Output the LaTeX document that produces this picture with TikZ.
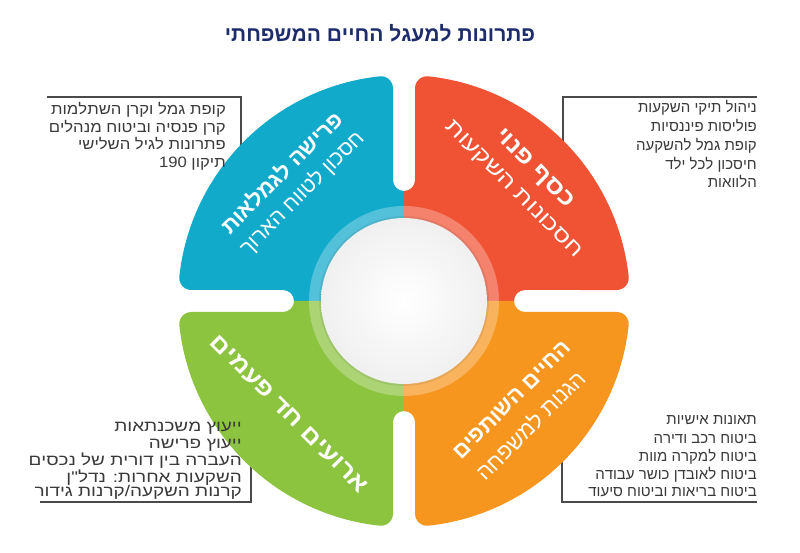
\documentclass[tikz,border=0pt]{standalone}
\usepackage{fontspec}
\setmainfont{Liberation Sans}
\newfontfamily\stretchA[FakeStretch=1.11]{Liberation Sans}
\newfontfamily\stretchB[FakeStretch=1.22]{Liberation Sans}
\newfontfamily\stretchC[FakeStretch=1.15]{Liberation Sans}
\TeXXeTstate=1
\definecolor{qblue}{HTML}{12AACB}
\definecolor{qred}{HTML}{F05334}
\definecolor{qorange}{HTML}{F7961F}
\definecolor{qgreen}{HTML}{8CC43F}
\definecolor{navy}{HTML}{1E2C6B}
\definecolor{txtgray}{HTML}{3A3A3A}
\definecolor{rulegray}{HTML}{4A4A4A}
\tikzset{
  quad/.pic={\fill[pic actions] (0,0) -- (0,110)
     arc[start angle=-90,end angle=0,radius=11pt] -- (11,212.76)
     arc[start angle=180,end angle=83.83,radius=12pt]
     arc[start angle=83.83,end angle=6.17,radius=226pt]
     arc[start angle=6.17,end angle=-90,radius=12pt] -- (121,11)
     arc[start angle=90,end angle=180,radius=11pt] -- cycle;},
  boxline/.style={draw=rulegray,line width=1.8pt},
  boxtext/.style={text=txtgray,inner sep=0pt,anchor=base east,font=\fontsize{15}{18}\selectfont},
  boxtextA/.style={boxtext,font=\fontsize{15}{18}\selectfont\stretchA},
  boxtextB/.style={boxtext,font=\fontsize{15.5}{18}\selectfont\stretchB},
  headA/.style={text=white,inner sep=0pt,font=\fontsize{22}{26}\selectfont\bfseries},
  headB/.style={text=white,inner sep=0pt,font=\fontsize{21}{26}\selectfont},
  titlestyle/.style={text=navy,inner sep=0pt,font=\fontsize{21}{24}\selectfont\bfseries}
}
\begin{document}
\begin{tikzpicture}[x=1pt,y=1pt]
\useasboundingbox (0,0) rectangle (800,552);
\fill[white] (0,0) rectangle (800,552);
\coordinate (c) at (404,251);

% title
\node[titlestyle] (title) at (380,519) {\beginR פתרונות למעגל החיים המשפחתי\endR};

% box rules
\coordinate (tlA) at (47,455); \coordinate (tlB) at (241,455); \coordinate (tlC) at (241,340);
\draw[boxline] (tlA) -- (tlB) -- (tlC);
\coordinate (trA) at (757,455); \coordinate (trB) at (563,455); \coordinate (trC) at (563,340);
\draw[boxline] (trA) -- (trB) -- (trC);
\coordinate (blA) at (251,120); \coordinate (blB) at (251,50); \coordinate (blC) at (40,50);
\draw[boxline] (blA) -- (blB) -- (blC);
\coordinate (brA) at (562,120); \coordinate (brB) at (562,50); \coordinate (brC) at (757,50);
\draw[boxline] (brA) -- (brB) -- (brC);

% quadrants
\pic (qr) [fill=qred] at (c) {quad};
\pic (qb) [fill=qblue,rotate=90] at (c) {quad};
\pic (qg) [fill=qgreen,rotate=180] at (c) {quad};
\pic (qo) [fill=qorange,rotate=270] at (c) {quad};

% inner ring and centre
\fill[white,opacity=0.28,even odd rule] (c) circle[radius=95pt] (c) circle[radius=83pt];
\fill[black,opacity=0.07] (c) circle[radius=85pt];
\shade[inner color=white,outer color=black!6] (c) circle[radius=83pt];

% box texts
\node[boxtextA] (tl1) at (226,437) {\beginR קופת גמל וקרן השתלמות\endR};
\node[boxtextA] (tl2) at (226,419.5) {\beginR קרן פנסיה וביטוח מנהלים\endR};
\node[boxtextA] (tl3) at (226,402) {\beginR פתרונות לגיל השלישי\endR};
\node[boxtextA] (tl4) at (226,384.5) {\beginR תיקון \beginL190\endL\endR};

\node[boxtext] (tr1) at (757,439) {\beginR ניהול תיקי השקעות\endR};
\node[boxtext] (tr2) at (757,420) {\beginR פוליסות פיננסיות\endR};
\node[boxtext] (tr3) at (757,401) {\beginR קופת גמל להשקעה\endR};
\node[boxtext] (tr4) at (757,382) {\beginR חיסכון לכל ילד\endR};
\node[boxtext] (tr5) at (757,364) {\beginR הלוואות\endR};

\node[boxtextB] (bl1) at (242,121) {\beginR ייעוץ משכנתאות\endR};
\node[boxtextB] (bl2) at (242,103.5) {\beginR ייעוץ פרישה\endR};
\node[boxtextB] (bl3) at (242,86.5) {\beginR העברה בין דורית של נכסים\endR};
\node[boxtextB] (bl4) at (242,70) {\beginR השקעות אחרות: נדל"ן\endR};
\node[boxtextB] (bl5) at (242,56) {\beginR קרנות השקעה/קרנות גידור\endR};

\node[boxtext] (br1) at (757,127.5) {\beginR תאונות אישיות\endR};
\node[boxtext] (br2) at (757,109) {\beginR ביטוח רכב ודירה\endR};
\node[boxtext] (br3) at (757,91) {\beginR ביטוח למקרה מוות\endR};
\node[boxtext] (br4) at (757,72.5) {\beginR ביטוח לאובדן כושר עבודה\endR};
\node[boxtext] (br5) at (757,55.5) {\beginR ביטוח בריאות וביטוח סיעוד\endR};

% quadrant headings
\node[headA,rotate=45] (hb1) at (281,380) {\beginR פרישה לגמלאות\endR};
\node[headB,rotate=45] (hb2) at (302,359) {\beginR חסכון לטווח הארוך\endR};
\node[headA,rotate=-45,font=\fontsize{23}{26}\selectfont\stretchC\bfseries] (hr1) at (534,383) {\beginR כסף פנוי\endR};
\node[headB,rotate=-45,font=\fontsize{21}{26}\selectfont\stretchB] (hr2) at (513,362) {\beginR חסכונות השקעות\endR};
\node[headA,rotate=-45,font=\fontsize{23}{26}\selectfont\stretchC\bfseries] (hg1) at (289,138) {\beginR ארועים חד פעמים\endR};
\node[headA,rotate=45] (ho1) at (512,152) {\beginR החיים השותפים\endR};
\node[headB,rotate=45,font=\fontsize{22}{26}\selectfont] (ho2) at (530,127) {\beginR הגנות למשפחה\endR};
\end{tikzpicture}
\end{document}
